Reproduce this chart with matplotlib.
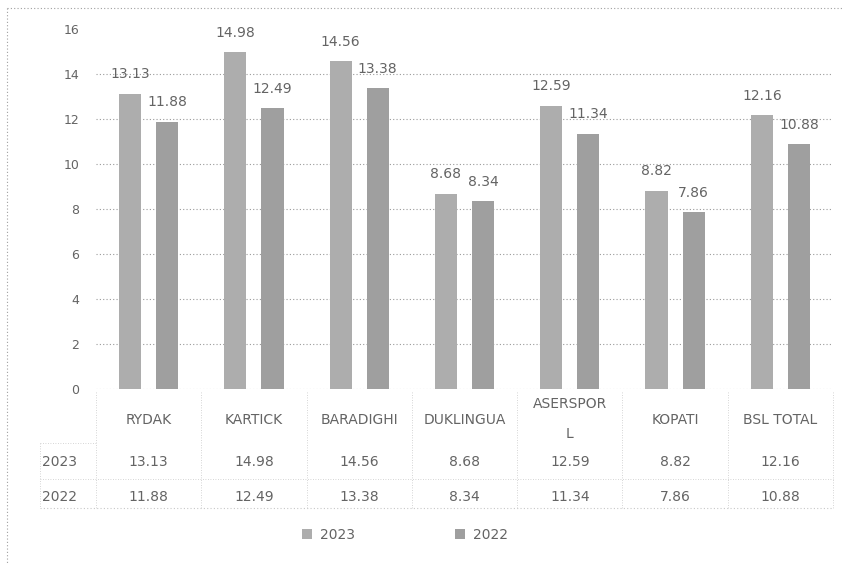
import matplotlib
matplotlib.use("Agg")
import matplotlib.pyplot as plt
from matplotlib.patches import Patch
from matplotlib.lines import Line2D

categories = ["RYDAK", "KARTICK", "BARADIGHI", "DUKLINGUA", "ASERSPOR\nL", "KOPATI", "BSL TOTAL"]
series_names = ["2023", "2022"]
values_2023 = [13.13, 14.98, 14.56, 8.68, 12.59, 8.82, 12.16]
values_2022 = [11.88, 12.49, 13.38, 8.34, 11.34, 7.86, 10.88]
y_ticks = [0, 2, 4, 6, 8, 10, 12, 14, 16]

W, H = 843, 564
fig = plt.figure(figsize=(W / 100, H / 100), dpi=100)
fig.patch.set_facecolor("white")

def fx(px):
    return px / W

def fy(py):
    return 1 - py / H

left_px, right_px, top_px, bot_px = 96, 833, 29, 389
ax = fig.add_axes([fx(left_px), fy(bot_px), (right_px - left_px) / W, (bot_px - top_px) / H])
ax.set_xlim(0, len(categories))
ax.set_ylim(0, 16)
for s in ax.spines.values():
    s.set_visible(False)

txt_col = "#646464"
grid_col = "#9a9a9a"
c23 = "#adadad"
c22 = "#9f9f9f"

for t in y_ticks[:-1]:
    ax.axhline(t, color=grid_col, lw=0.8, ls=(0, (1, 2)), zorder=0)

ax.set_xticks([])
ax.set_yticks(y_ticks)
ax.set_yticklabels([str(t) for t in y_ticks], color=txt_col, fontsize=9)
ax.tick_params(axis="y", length=0, pad=12)

xs = [i + 0.5 for i in range(len(categories))]
off = 0.176
bw = 0.21
ax.bar([x - off for x in xs], values_2023, width=bw, color=c23, zorder=2)
ax.bar([x + off for x in xs], values_2022, width=bw, color=c22, zorder=2)

for x, v in zip(xs, values_2023):
    ax.annotate(f"{v:.2f}", (x - off, v), xytext=(0, 14), textcoords="offset points",
                ha="center", va="center", fontsize=10, color=txt_col)
for x, v in zip(xs, values_2022):
    ax.annotate(f"{v:.2f}", (x + off, v), xytext=(0, 14), textcoords="offset points",
                ha="center", va="center", fontsize=10, color=txt_col)

# data table
trans = ax.get_xaxis_transform()
ah = bot_px - top_px

def ay(py):
    return (bot_px - py) / ah

for x, c in zip(xs, categories):
    parts = c.split("\n")
    if len(parts) == 1:
        ax.text(x, ay(420), c, transform=trans, ha="center", va="center",
                fontsize=10, color=txt_col, clip_on=False)
    else:
        ax.text(x, ay(404), parts[0], transform=trans, ha="center", va="center",
                fontsize=10, color=txt_col, clip_on=False)
        ax.text(x, ay(434), parts[1], transform=trans, ha="center", va="center",
                fontsize=10, color=txt_col, clip_on=False)

for x, v in zip(xs, values_2023):
    ax.text(x, ay(462), f"{v:.2f}", transform=trans, ha="center", va="center",
            fontsize=10, color=txt_col, clip_on=False)
for x, v in zip(xs, values_2022):
    ax.text(x, ay(497), f"{v:.2f}", transform=trans, ha="center", va="center",
            fontsize=10, color=txt_col, clip_on=False)

fig.text(fx(42), fy(462), series_names[0], ha="left", va="center", fontsize=10, color=txt_col)
fig.text(fx(42), fy(497), series_names[1], ha="left", va="center", fontsize=10, color=txt_col)

tl = "#c8c8c8"
dash = (0, (1, 2))
# table horizontal lines
fig.add_artist(Line2D([fx(40), fx(right_px)], [fy(508), fy(508)], color=tl, lw=0.8, ls=dash))
fig.add_artist(Line2D([fx(40), fx(right_px)], [fy(479), fy(479)], color=tl, lw=0.6, ls=dash))
fig.add_artist(Line2D([fx(40), fx(left_px)], [fy(443), fy(443)], color=tl, lw=0.6, ls=dash))
fig.add_artist(Line2D([fx(40), fx(40)], [fy(443), fy(508)], color=tl, lw=0.6, ls=dash))
# table vertical lines
for i in range(len(categories) + 1):
    px = left_px + i * (right_px - left_px) / len(categories)
    fig.add_artist(Line2D([fx(px), fx(px)], [fy(392), fy(508)], color=tl, lw=0.6, ls=dash))

# chart border (top and left visible)
fig.add_artist(Line2D([fx(7), fx(843)], [fy(8), fy(8)], color="#a0a0a0", lw=0.8, ls=dash))
fig.add_artist(Line2D([fx(7), fx(7)], [fy(8), fy(564)], color="#a0a0a0", lw=0.8, ls=dash))

handles = [Patch(facecolor=c23, label=series_names[0]), Patch(facecolor=c22, label=series_names[1])]
leg = fig.legend(handles=handles, loc="center", bbox_to_anchor=(fx(405), fy(535)), ncol=2,
                 frameon=False, fontsize=10, handlelength=0.7, handleheight=0.7,
                 handletextpad=0.6, columnspacing=7.2)
for t in leg.get_texts():
    t.set_color(txt_col)

fig.savefig("out.png", dpi=100)
